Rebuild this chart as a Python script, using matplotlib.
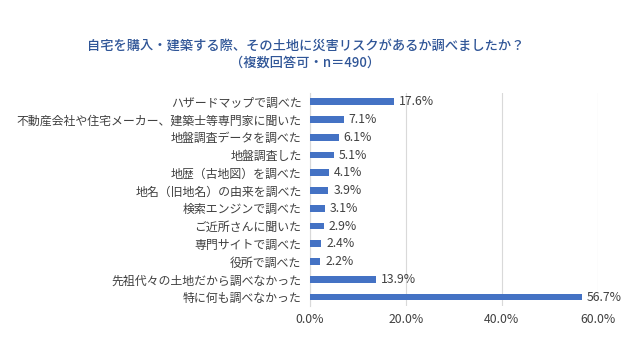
import matplotlib
matplotlib.use('Agg')
import matplotlib.pyplot as plt
from matplotlib.ticker import FuncFormatter

plt.rcParams['font.family'] = ['Noto Sans CJK JP', 'DejaVu Sans']

# categories from top to bottom
labels = ['ハザードマップで調べた',
          '不動産会社や住宅メーカー、建築士等専門家に聞いた',
          '地盤調査データを調べた',
          '地盤調査した',
          '地歴（古地図）を調べた',
          '地名（旧地名）の由来を調べた',
          '検索エンジンで調べた',
          'ご近所さんに聞いた',
          '専門サイトで調べた',
          '役所で調べた',
          '先祖代々の土地だから調べなかった',
          '特に何も調べなかった']
values = [17.6, 7.1, 6.1, 5.1, 4.1, 3.9, 3.1, 2.9, 2.4, 2.2, 13.9, 56.7]
xticks = [0, 20, 40, 60]

title = '自宅を購入・建築する際、その土地に災害リスクがあるか調べましたか？\n（複数回答可・n＝490）'

text_color = '#404040'
bar_color = '#4472C4'

fig = plt.figure(figsize=(6.4, 3.6), dpi=100)
ax = fig.add_axes([0.484, 0.15, 0.45, 0.592])

ypos = list(range(len(labels)))
ax.barh(ypos, values, height=0.38, color=bar_color, zorder=3)

# value labels next to bars
for y, v in zip(ypos, values):
    ax.text(v + 1.0, y, '%.1f%%' % v, va='center', ha='left',
            fontsize=8.8, color=text_color)

ax.set_yticks(ypos)
ax.set_yticklabels(labels, fontsize=8.6, color=text_color)
ax.set_ylim(len(labels) - 0.5, -0.5)

ax.set_xlim(0, 60)
ax.set_xticks(xticks)
ax.xaxis.set_major_formatter(FuncFormatter(lambda x, p: '%.1f%%' % x))
ax.tick_params(axis='x', labelsize=8.8, colors=text_color, length=0, pad=5)
ax.tick_params(axis='y', length=0, pad=6)

ax.grid(axis='x', color='#d9d9d9', linewidth=0.8, zorder=0)
for s in ['top', 'right', 'bottom']:
    ax.spines[s].set_visible(False)
ax.spines['left'].set_color('#d9d9d9')

fig.text(0.477, 0.85, title, ha='center', va='center', fontsize=9.5,
         color='#2F5597', linespacing=1.25, fontweight='medium')

fig.savefig('out.png', dpi=100)
